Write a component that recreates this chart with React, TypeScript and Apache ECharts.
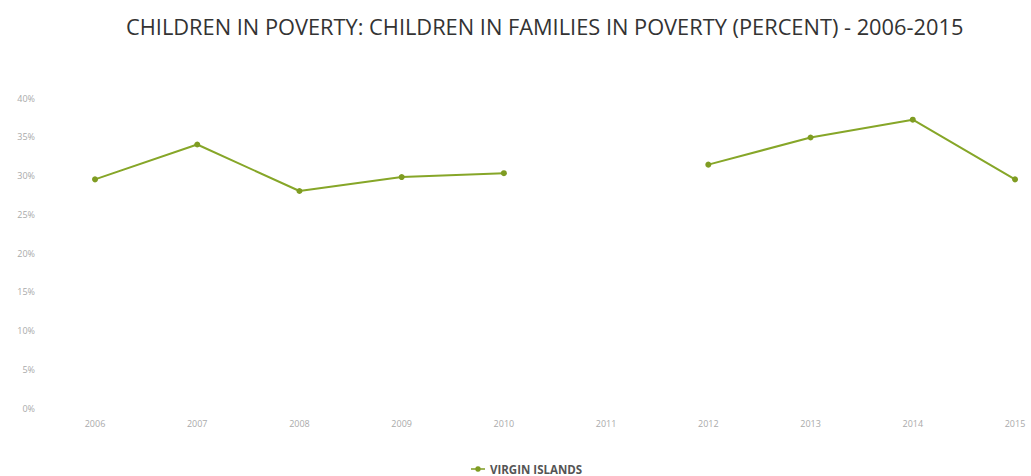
import React, { useEffect, useRef } from "react";
import * as echarts from "echarts";

const years = ["2006", "2007", "2008", "2009", "2010", "2011", "2012", "2013", "2014", "2015"];
const virginIslands: (number | null)[] = [29.5, 34.0, 28.0, 29.8, 30.3, null, 31.4, 34.9, 37.2, 29.5];
const titleText = "CHILDREN IN POVERTY: CHILDREN IN FAMILIES IN POVERTY (PERCENT) - 2006-2015";
const seriesName = "VIRGIN ISLANDS";

export default function App() {
  const ref = useRef<HTMLDivElement>(null);
  useEffect(() => {
    if (!ref.current) return;
    const chart = echarts.init(ref.current, null, { renderer: "svg" });
    chart.setOption({
      animation: false,
      backgroundColor: "#ffffff",
      title: {
        text: titleText,
        left: 121,
        top: 10,
        textStyle: {
          fontFamily: "Open Sans",
          fontWeight: "normal",
          fontSize: 21.8,
          color: "#333333",
        },
      },
      legend: {
        top: 458,
        left: 466,
        icon: "path://M0,5 L20,5 L20,7 L0,7 Z M10,2 A4,4 0 1 1 9.99,2 Z",
        itemWidth: 14,
        itemHeight: 6,
        itemGap: 6,
        textStyle: { fontFamily: "Open Sans", fontSize: 11.5, fontWeight: "bold", color: "#555555" },
        data: [seriesName],
      },
      grid: { left: 95, right: 16, top: 98, bottom: 68 },
      xAxis: {
        type: "category",
        data: years,
        boundaryGap: false,
        axisLine: { show: false },
        axisTick: { show: false },
        axisLabel: { color: "#aaaaaa", fontSize: 9, margin: 11, fontFamily: "Open Sans" },
        splitLine: { show: false },
      },
      yAxis: {
        type: "value",
        min: 0,
        max: 40,
        interval: 5,
        axisLine: { show: false },
        axisTick: { show: false },
        splitLine: { show: false },
        axisLabel: {
          color: "#aaaaaa",
          fontSize: 9,
          margin: 60,
          fontFamily: "Open Sans",
          formatter: "{value}%",
        },
      },
      series: [
        {
          name: seriesName,
          type: "line",
          data: virginIslands,
          connectNulls: false,
          symbol: "circle",
          symbolSize: 6,
          itemStyle: { color: "#7f9c22" },
          lineStyle: { color: "#86a628", width: 2 },
        },
      ],
    });
    return () => chart.dispose();
  }, []);
  return (
    <div
      ref={ref}
      style={{ position: "fixed", left: 0, top: 0, width: 1031, height: 476 }}
    />
  );
}
